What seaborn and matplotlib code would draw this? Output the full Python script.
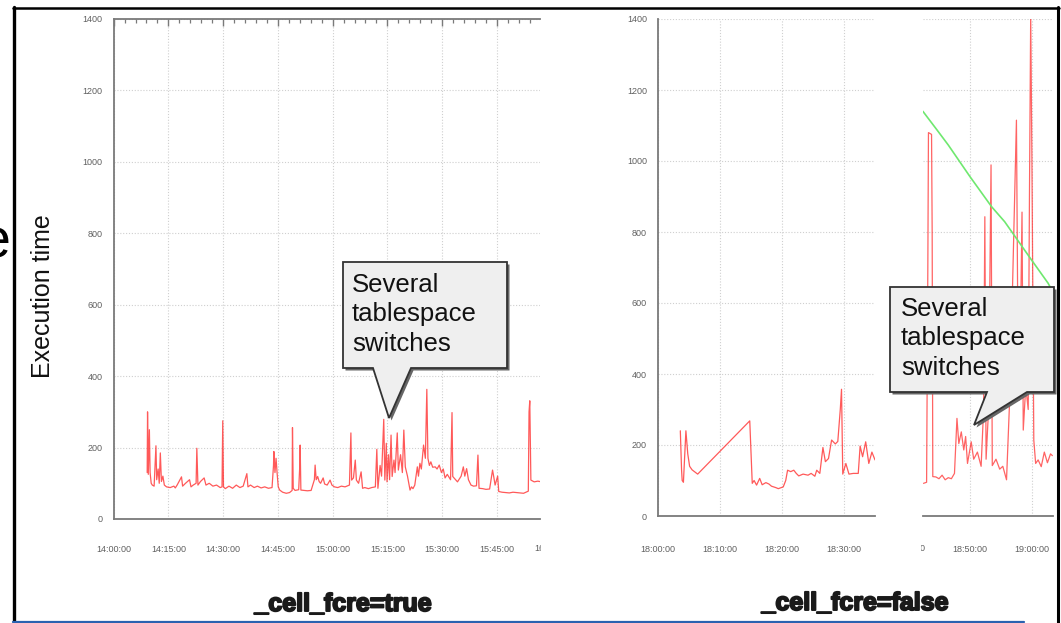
import matplotlib
matplotlib.use("Agg")
import matplotlib.pyplot as plt
import seaborn as sns
import pandas as pd
from matplotlib.patches import Polygon
from matplotlib.lines import Line2D
from matplotlib.transforms import Bbox, TransformedBbox, blended_transform_factory
import matplotlib.patheffects as pe

# ---------------- data (minutes after the first tick) ----------------
# left panel: _cell_fcre=true, minutes after 14:00:00
left_min = [9.2, 9.3, 9.5, 9.8, 10.0, 10.3, 10.6, 11.1, 11.6, 11.8, 12.2, 12.5, 12.8, 13.1,
            13.5, 13.9, 14.5, 15.5, 16.5, 16.9, 17.4, 18.6, 18.9, 19.7, 20.8, 21.2, 21.8,
            22.6, 22.8, 23.1, 23.8, 24.8, 25.3, 26.2, 27.2, 28.2, 29.2, 29.7, 29.9, 30.1,
            30.6, 31.6, 32.6, 33.6, 34.6, 35.5, 36.5, 36.8, 37.5, 38.5, 39.4, 40.4, 41.4,
            42.4, 43.4, 43.8, 43.9, 44.2, 44.5, 44.8, 45.1, 45.5, 46.3, 47.3, 48.2, 48.9,
            49.0, 49.2, 49.7, 50.7, 51.0, 51.1, 51.3, 52.2, 53.1, 54.1, 55.0, 55.2, 55.5,
            55.9, 56.3, 56.7, 57.4, 57.8, 58.5, 59.3, 59.8, 60.5, 61.4, 62.4, 63.4, 64.6,
            65.0, 65.2, 65.7, 66.2, 66.5, 67.1, 67.8, 68.2, 68.8, 69.8, 70.7, 71.7, 72.1,
            72.4, 73.0, 73.4, 74.0, 74.3, 74.7, 74.9, 75.3, 75.6, 76.0, 76.3, 76.8, 77.1,
            77.7, 78.0, 78.6, 79.1, 79.5, 79.9, 80.5, 81.2, 81.6, 82.0, 82.5, 83.2, 83.5,
            83.9, 84.3, 84.9, 85.4, 85.8, 86.1, 86.5, 86.9, 87.4, 88.1, 88.6, 89.2, 89.8,
            90.3, 90.8, 91.4, 92.3, 92.7, 92.9, 93.5, 94.2, 95.2, 95.8, 96.2, 96.7, 97.2,
            97.9, 98.6, 99.4, 99.8, 100.1, 101.1, 102.0, 103.0, 103.8, 104.1, 104.5, 105.2,
            105.5, 106.4, 107.4, 108.4, 109.4, 110.4, 111.3, 112.3, 113.6, 113.8, 114.0,
            114.3, 115.2, 116.2, 117.2]
left_val = [130, 300, 125, 250, 130, 100, 95, 92, 205, 110, 140, 100, 185, 105,
            120, 95, 90, 88, 92, 87, 95, 118, 92, 100, 110, 90, 95,
            100, 198, 95, 105, 115, 95, 100, 92, 95, 88, 90, 275, 90,
            85, 92, 86, 95, 88, 92, 127, 90, 95, 88, 92, 87, 90,
            86, 88, 150, 189, 130, 170, 127, 90, 81, 75, 72, 74, 80,
            256, 86, 80, 82, 150, 207, 81, 80, 79, 80, 110, 151, 110,
            119, 105, 100, 115, 98, 95, 109, 95, 90, 88, 92, 90, 95,
            241, 109, 115, 165, 109, 100, 132, 86, 88, 85, 88, 90, 195,
            86, 150, 120, 279, 109, 212, 104, 180, 110, 235, 119, 165, 130,
            241, 137, 180, 130, 249, 146, 120, 81, 90, 85, 95, 146, 120,
            156, 140, 207, 170, 363, 170, 150, 160, 145, 146, 140, 151, 130,
            140, 115, 125, 110, 298, 119, 112, 104, 120, 146, 120, 141, 110,
            95, 92, 93, 179, 86, 85, 83, 84, 137, 120, 95, 120,
            77, 75, 74, 73, 75, 74, 73, 72, 78, 300, 331,
            109, 104, 106, 104]

# right panel, first part: _cell_fcre=false, minutes after 18:00:00
r1_min = [3.6, 3.8, 3.9, 4.1, 4.5, 4.8, 5.1, 5.5, 6.4, 14.8, 15.2, 15.5, 15.9, 16.4, 16.8,
          17.4, 17.9, 18.3, 19.0, 19.4, 20.2, 20.6, 20.9, 21.4, 21.9, 22.3, 22.7, 23.4,
          24.2, 24.7, 25.3, 25.6, 26.1, 26.6, 27.0, 27.5, 28.0, 28.6, 29.0, 29.4, 29.6,
          29.8, 30.3, 30.8, 31.5, 32.3, 32.6, 33.0, 33.5, 34.0, 34.5, 35.0]
r1_val = [240, 130, 100, 95, 240, 175, 140, 130, 118, 268, 92, 100, 87, 106, 88,
          94, 90, 84, 80, 77, 82, 100, 129, 125, 129, 120, 113, 118,
          115, 120, 112, 129, 120, 193, 153, 162, 214, 203, 210, 300, 357,
          118, 148, 118, 120, 120, 197, 167, 209, 148, 180, 158]

# right panel, second part
r2_min = [42.5, 43.0, 43.2, 43.3, 43.8, 43.9, 44.0, 44.5, 45.0, 45.5, 46.0, 46.5, 47.0,
          47.5, 47.9, 48.2, 48.6, 49.0, 49.3, 49.6, 50.2, 50.6, 51.2, 51.8, 52.2, 52.4,
          52.6, 53.0, 53.4, 53.6, 54.2, 54.8, 55.3, 55.9, 56.5, 57.5, 57.7, 58.0, 58.4,
          58.6, 59.0, 59.4, 59.6, 59.8, 60.0, 60.3, 60.6, 61.0, 61.5, 62.0, 62.5, 63.0, 63.3]
r2_val = [92, 95, 700, 1080, 1075, 800, 111, 110, 105, 115, 102, 108, 105,
          120, 275, 204, 237, 186, 224, 148, 209, 160, 180, 140, 300, 843,
          160, 300, 989, 142, 160, 132, 140, 102, 370, 1115, 600, 327, 856,
          242, 364, 300, 900, 1408, 1000, 214, 148, 158, 139, 180, 150, 175, 170]

trend_min = [42.4, 44.7, 46.5, 50.0, 53.5, 55.6, 59.7, 62.6, 63.4]
trend_val = [1140, 1087, 1045, 956, 871, 829, 727, 656, 630]

left_ticks = [0, 15, 30, 45, 60, 75, 90, 105, 120]
left_labels = ["14:00:00", "14:15:00", "14:30:00", "14:45:00", "15:00:00",
               "15:15:00", "15:30:00", "15:45:00", "16:00:00"]
r1_ticks = [0, 10, 20, 30]
r1_labels = ["18:00:00", "18:10:00", "18:20:00", "18:30:00"]
r2_ticks = [40, 50, 60]
r2_labels = ["18:40:00", "18:50:00", "19:00:00"]
y_ticks = [0, 200, 400, 600, 800, 1000, 1200, 1400]

callout_text = "Several\ntablespace\nswitches"
ylabel = "Execution time"
title_left = "_cell_fcre=true"
title_right = "_cell_fcre=false"

# ---------------- figure ----------------
W, H = 1061, 623
sns.set_theme(style="white")
plt.rcParams["font.family"] = ["Liberation Sans", "DejaVu Sans"]

fig = plt.figure(figsize=(W / 100, H / 100), dpi=100)
fig.patch.set_facecolor("white")


def rect(x0, yt, x1, yb):
    return [x0 / W, 1 - yb / H, (x1 - x0) / W, (yb - yt) / H]


def fp(x, y):
    return (x / W, 1 - y / H)


axL = fig.add_axes(rect(113.6, 19, 540, 519))
axR1 = fig.add_axes(rect(658, 19, 875, 516))
axR2 = fig.add_axes(rect(923, 19, 1053, 516))

red = "#ff3030"
sns.lineplot(x=left_min, y=left_val, ax=axL, color=red, lw=0.9, alpha=0.8,
             estimator=None, sort=False)
sns.lineplot(x=r1_min, y=r1_val, ax=axR1, color=red, lw=0.9, alpha=0.8,
             estimator=None, sort=False)
sns.lineplot(x=r2_min, y=r2_val, ax=axR2, color=red, lw=0.9, alpha=0.75,
             estimator=None, sort=False)
sns.lineplot(x=trend_min, y=trend_val, ax=axR2, color="#6fe86f", lw=1.2,
             estimator=None, sort=False)

clip_fig = lambda x0, x1: TransformedBbox(Bbox([[x0 / W, 0], [x1 / W, 1]]), fig.transFigure)

grid_kw = dict(color="#cfcfcf", lw=0.8, ls=(0, (1, 1.6)))
spine_c = "#7a7a7a"
lab_kw = dict(fontsize=6.5, color="#606060")

for ax, ticks, labels, xlim, minor_step, pad in [
        (axL, left_ticks, left_labels, (0, 116.8), 3, 19),
        (axR1, r1_ticks, r1_labels, (0, 35), 2, 21),
        (axR2, r2_ticks, r2_labels, (42.42, 63.4), 2, 21)]:
    ax.set_facecolor("white")
    inside = [(t, l) for t, l in zip(ticks, labels) if xlim[0] <= t <= xlim[1]]
    ax.set_xticks([t for t, _ in inside])
    ax.set_xticklabels([l for _, l in inside])
    ax.set_xticks([m for m in range(0, 126, minor_step)
                   if xlim[0] <= m <= xlim[1]], minor=True)
    ax.set_yticks(y_ticks)
    ax.set_yticklabels([str(v) for v in y_ticks])
    ax.set_xlim(*xlim)
    ax.set_ylim(0, 1400)
    ax.set_xlabel("")
    ax.set_ylabel("")
    ax.grid(True, which="major", **grid_kw)
    for s in ax.spines.values():
        s.set_visible(False)
    ax.spines["bottom"].set_visible(True)
    ax.spines["bottom"].set_color(spine_c)
    ax.spines["bottom"].set_linewidth(1.3)
    ax.tick_params(axis="x", which="both", direction="in", color=spine_c,
                   labelsize=6.5, labelcolor="#606060", pad=pad)
    ax.tick_params(axis="x", which="major", length=5, width=1)
    ax.tick_params(axis="x", which="minor", length=3, width=0.9)
    ax.tick_params(axis="y", which="both", direction="in", color=spine_c,
                   length=4, width=1, labelsize=6.5, labelcolor="#606060", pad=8)
    # tick labels that fall just outside the visible window, cut at the panel edge
    bt = blended_transform_factory(ax.transData, fig.transFigure)
    for t, l in zip(ticks, labels):
        if not (xlim[0] <= t <= xlim[1]):
            txt = ax.text(t, 1 - 548.5 / H, l, transform=bt, ha="center",
                          va="center", **lab_kw)
            txt.set_clip_on(True)
            if t > xlim[1]:
                txt.set_clip_box(clip_fig(0, 541))
            else:
                txt.set_clip_box(clip_fig(921, W))

# left panel: left + top spines
axL.spines["left"].set_visible(True)
axL.spines["top"].set_visible(True)
for s in ("left", "top"):
    axL.spines[s].set_color(spine_c)
    axL.spines[s].set_linewidth(1.3)
axL.tick_params(axis="x", which="both", top=True)

# right panel first part: left spine only
axR1.spines["left"].set_visible(True)
axR1.spines["left"].set_color(spine_c)
axR1.spines["left"].set_linewidth(1.3)

# right panel second part: no y axis
axR2.tick_params(axis="y", left=False, labelleft=False)

# ---------------- callouts ----------------
def callout(pts, tx, ty):
    shadow = [fp(x + 2.5, y + 2.5) for x, y in pts]
    fig.add_artist(Polygon(shadow, closed=True, transform=fig.transFigure,
                           facecolor="#666666", edgecolor="none", zorder=20))
    fig.add_artist(Polygon([fp(x, y) for x, y in pts], closed=True,
                           transform=fig.transFigure, facecolor="#efefef",
                           edgecolor="#333333", lw=1.3, zorder=21))
    fig.text(*fp(tx, ty), callout_text, ha="left", va="top", fontsize=18.5,
             color="#111111", linespacing=1.28, zorder=22)

callout([(343, 262), (507, 262), (507, 368), (411, 368), (389, 418),
         (373, 368), (343, 368)], 352, 273)
callout([(890, 287), (1054, 287), (1054, 392), (1027, 392), (974, 425),
         (987, 392), (890, 392)], 901, 297)

# ---------------- slide text ----------------
fig.text(*fp(43, 296), ylabel, rotation=90, ha="center", va="center",
         fontsize=18, color="#111111")
fig.text(*fp(11, 244), "e", ha="right", va="center", fontsize=40, color="black")
heavy = [pe.withStroke(linewidth=1.4, foreground="#1a1a1a")]
fig.text(*fp(343, 604), title_left, ha="center", va="center", fontsize=18,
         weight="bold", color="#1a1a1a", path_effects=heavy)
fig.text(*fp(855, 603), title_right, ha="center", va="center", fontsize=18,
         weight="bold", color="#1a1a1a", path_effects=heavy)

# ---------------- slide frame ----------------
def fline(xs, ys, **kw):
    fig.add_artist(Line2D([x / W for x in xs], [1 - y / H for y in ys],
                          transform=fig.transFigure, **kw))

fline([14, 14], [7, 623], color="black", lw=2.4, zorder=30)
fline([13, 1059], [8, 8], color="black", lw=1.8, zorder=30)
fline([1058, 1058], [7, 623], color="black", lw=2.2, zorder=30)
fline([13, 1024], [621.5, 621.5], color="#2a62b0", lw=1.6, zorder=30)

fig.savefig("out.png", dpi=100, facecolor="white")
